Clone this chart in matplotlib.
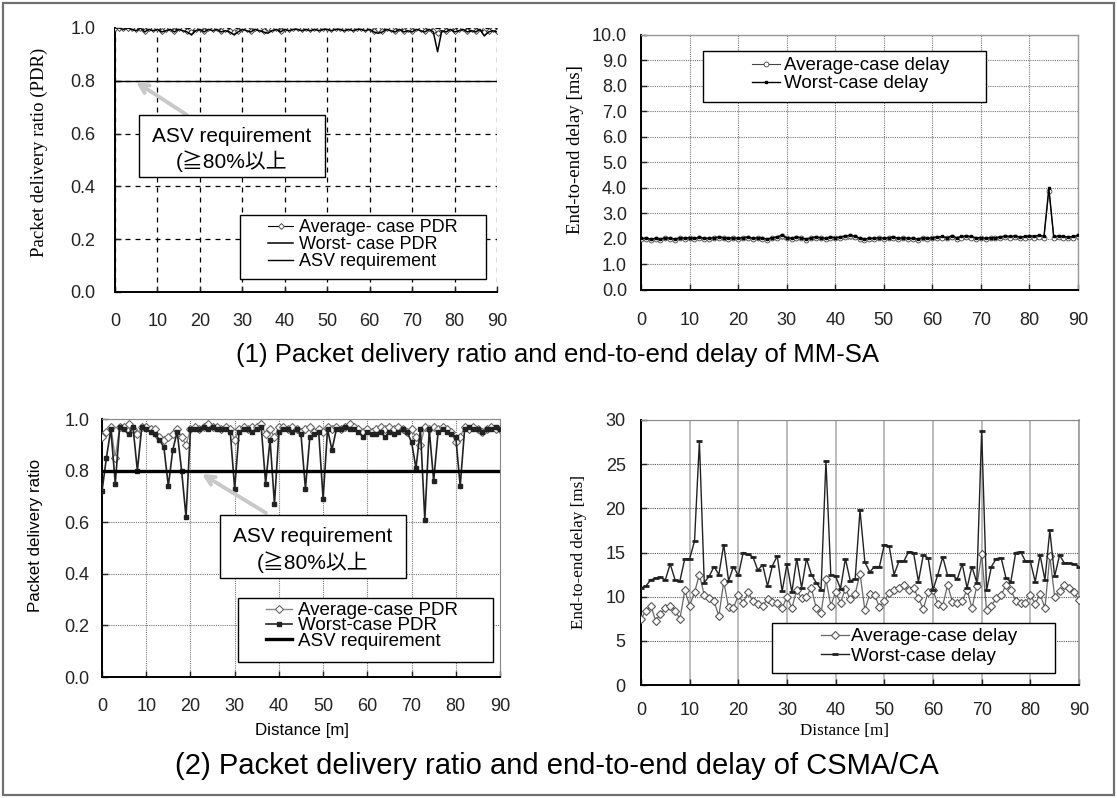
import numpy as np
import matplotlib
matplotlib.use("Agg")
import matplotlib.pyplot as plt
import matplotlib.patches as mpatches
from matplotlib.ticker import FormatStrFormatter

W, H = 1117, 798

# distance along the road [m]
distance = list(range(0, 91))
asv_requirement = 0.8

# (1) MM-SA
avg_pdr_mmsa = [1.00, 1.00, 1.00, 1.00, 1.00, 0.995, 1.00, 0.99, 1.00, 0.995,
                1.00, 0.99, 0.995, 1.00, 0.99, 1.00, 0.995, 0.99, 0.985, 0.995,
                1.00, 0.99, 1.00, 0.995, 1.00, 0.99, 0.995, 0.99, 0.985, 0.99,
                1.00, 0.995, 0.99, 1.00, 0.995, 0.99, 1.00, 0.995, 1.00, 0.99,
                1.00, 0.995, 1.00, 1.00, 0.995, 1.00, 0.995, 1.00, 0.995, 1.00,
                1.00, 0.995, 1.00, 1.00, 0.995, 1.00, 0.995, 1.00, 1.00, 0.995,
                1.00, 0.99, 0.995, 0.99, 1.00, 0.995, 0.99, 1.00, 0.99, 0.995,
                0.99, 1.00, 0.995, 0.99, 1.00, 0.99, 0.98, 0.995, 0.99, 1.00,
                0.99, 0.995, 1.00, 0.99, 0.995, 0.99, 1.00, 0.985, 0.99, 0.995, 0.99]
worst_pdr_mmsa = [1.00, 1.00, 0.995, 1.00, 0.995, 0.99, 1.00, 0.985, 0.995, 0.99,
                  0.995, 0.985, 0.99, 0.995, 0.985, 0.995, 0.99, 0.985, 0.975, 0.99,
                  0.995, 0.985, 0.995, 0.99, 0.995, 0.985, 0.99, 0.985, 0.975, 0.985,
                  0.995, 0.99, 0.985, 0.995, 0.99, 0.985, 0.98, 0.99, 0.995, 0.985,
                  0.995, 0.99, 0.995, 0.995, 0.99, 0.995, 0.99, 0.995, 0.99, 0.995,
                  0.995, 0.99, 0.995, 0.995, 0.99, 0.995, 0.99, 0.995, 0.995, 0.99,
                  0.995, 0.985, 0.98, 0.985, 0.995, 0.99, 0.985, 0.995, 0.985, 0.99,
                  0.985, 0.995, 0.99, 0.985, 0.995, 0.985, 0.91, 0.99, 0.985, 0.995,
                  0.985, 0.99, 0.995, 0.985, 0.99, 0.985, 0.995, 0.97, 0.985, 0.99, 0.985]
avg_delay_mmsa = [2.00, 2.00, 1.98, 2.00, 1.98, 2.02, 2.00, 1.98, 2.02, 2.00,
                  2.02, 2.00, 2.03, 2.00, 2.00, 2.02, 2.05, 2.02, 2.00, 2.02,
                  2.00, 2.02, 2.05, 2.00, 2.02, 2.00, 1.98, 2.02, 2.05, 2.12,
                  2.02, 2.00, 2.05, 2.02, 1.98, 2.02, 2.05, 2.02, 2.00, 2.05,
                  2.02, 2.05, 2.08, 2.10, 2.08, 2.00, 1.98, 2.00, 2.00, 2.02,
                  2.00, 2.02, 2.05, 2.00, 2.02, 2.00, 2.00, 1.98, 2.02, 2.00,
                  2.02, 2.05, 2.05, 2.02, 2.08, 2.00, 2.05, 2.08, 2.05, 2.00,
                  2.02, 2.00, 2.02, 2.02, 2.05, 2.08, 2.05, 2.08, 2.02, 2.05,
                  2.08, 2.05, 2.08, 2.05, 3.90, 2.05, 2.08, 2.05, 2.02, 2.05, 2.10]
worst_delay_mmsa = [2.02, 2.03, 2.00, 2.02, 2.00, 2.05, 2.03, 2.00, 2.05, 2.03,
                    2.05, 2.03, 2.06, 2.03, 2.03, 2.05, 2.08, 2.05, 2.03, 2.05,
                    2.03, 2.05, 2.08, 2.03, 2.05, 2.03, 2.00, 2.05, 2.08, 2.15,
                    2.05, 2.03, 2.08, 2.05, 2.00, 2.05, 2.08, 2.05, 2.03, 2.08,
                    2.05, 2.08, 2.12, 2.14, 2.12, 2.03, 2.00, 2.03, 2.03, 2.05,
                    2.03, 2.05, 2.08, 2.03, 2.05, 2.03, 2.03, 2.00, 2.05, 2.03,
                    2.05, 2.08, 2.10, 2.05, 2.12, 2.05, 2.10, 2.12, 2.10, 2.05,
                    2.05, 2.03, 2.05, 2.05, 2.08, 2.12, 2.10, 2.12, 2.08, 2.10,
                    2.12, 2.12, 2.14, 2.12, 4.00, 2.10, 2.12, 2.10, 2.08, 2.10, 2.14]

# (2) CSMA/CA
avg_pdr_csma = [0.93, 0.95, 0.97, 0.85, 0.97, 0.97, 0.98, 0.96, 0.94, 0.97,
                0.97, 0.96, 0.96, 0.93, 0.92, 0.93, 0.94, 0.96, 0.93, 0.90,
                0.96, 0.97, 0.96, 0.97, 0.98, 0.97, 0.97, 0.96, 0.97, 0.96,
                0.92, 0.96, 0.97, 0.96, 0.97, 0.97, 0.98, 0.94, 0.96, 0.93,
                0.97, 0.97, 0.96, 0.97, 0.96, 0.95, 0.96, 0.97, 0.95, 0.96,
                0.95, 0.97, 0.96, 0.97, 0.96, 0.97, 0.98, 0.97, 0.96, 0.95,
                0.96, 0.95, 0.96, 0.97, 0.96, 0.97, 0.96, 0.97, 0.96, 0.95,
                0.96, 0.93, 0.90, 0.97, 0.96, 0.97, 0.96, 0.97, 0.96, 0.95,
                0.91, 0.93, 0.97, 0.96, 0.97, 0.96, 0.95, 0.96, 0.97, 0.96, 0.96]
worst_pdr_csma = [0.72, 0.85, 0.96, 0.75, 0.97, 0.96, 0.94, 0.97, 0.80, 0.97,
                  0.96, 0.95, 0.94, 0.92, 0.89, 0.74, 0.88, 0.95, 0.80, 0.62,
                  0.96, 0.96, 0.96, 0.97, 0.96, 0.97, 0.96, 0.96, 0.96, 0.95,
                  0.73, 0.95, 0.96, 0.96, 0.95, 0.96, 0.97, 0.75, 0.92, 0.67,
                  0.95, 0.96, 0.96, 0.95, 0.96, 0.94, 0.73, 0.93, 0.94, 0.95,
                  0.69, 0.96, 0.88, 0.96, 0.96, 0.97, 0.96, 0.96, 0.95, 0.93,
                  0.95, 0.94, 0.94, 0.95, 0.93, 0.95, 0.94, 0.95, 0.96, 0.95,
                  0.91, 0.81, 0.96, 0.61, 0.96, 0.76, 0.95, 0.96, 0.95, 0.94,
                  0.93, 0.74, 0.96, 0.97, 0.96, 0.96, 0.95, 0.96, 0.96, 0.97, 0.96]
avg_delay_csma = [7.5, 8.4, 9.0, 7.3, 8.0, 8.7, 9.0, 8.4, 7.5, 10.7,
                  9.0, 10.5, 12.5, 10.2, 9.8, 9.5, 7.8, 11.7, 8.8, 8.7,
                  10.2, 9.3, 10.5, 9.5, 9.2, 9.0, 9.7, 9.4, 9.3, 8.7,
                  10.0, 8.7, 10.8, 9.8, 10.0, 11.0, 8.7, 8.1, 12.0, 9.0,
                  10.5, 9.3, 10.9, 9.7, 10.3, 12.6, 8.5, 10.3, 10.2, 8.8,
                  9.5, 10.4, 10.7, 11.0, 11.3, 10.8, 11.0, 9.8, 8.6, 10.5,
                  10.7, 9.2, 9.0, 11.3, 9.4, 9.3, 9.5, 10.8, 8.7, 11.2,
                  14.8, 8.5, 9.0, 9.8, 10.2, 11.3, 10.8, 9.5, 9.3, 9.3,
                  10.2, 9.2, 10.3, 8.7, 14.6, 10.0, 10.6, 11.3, 11.0, 10.5, 9.6]
worst_delay_csma = [11.0, 11.2, 11.9, 12.1, 12.2, 11.9, 13.7, 11.9, 11.8, 14.3,
                    14.3, 16.3, 27.6, 11.6, 12.3, 13.4, 12.5, 15.9, 11.8, 13.4,
                    12.4, 15.0, 14.8, 14.5, 13.0, 13.6, 11.2, 13.5, 14.6, 10.6,
                    13.7, 10.5, 14.3, 11.0, 14.3, 12.5, 11.6, 10.8, 25.4, 12.5,
                    12.3, 10.9, 14.3, 11.8, 12.0, 19.8, 13.9, 12.8, 13.4, 13.4,
                    15.9, 15.7, 12.5, 14.0, 14.0, 15.1, 15.0, 11.7, 14.7, 14.4,
                    10.8, 12.5, 14.5, 12.4, 12.4, 12.0, 13.7, 11.0, 13.4, 11.6,
                    28.8, 10.7, 13.4, 14.3, 14.4, 12.1, 11.7, 15.0, 15.1, 14.0,
                    14.0, 11.7, 14.7, 11.9, 17.5, 12.3, 14.7, 13.8, 13.8, 13.7, 13.4]

x_ticks = [0, 10, 20, 30, 40, 50, 60, 70, 80, 90]
pdr_ticks = [0.0, 0.2, 0.4, 0.6, 0.8, 1.0]
mmsa_delay_ticks = [0, 1, 2, 3, 4, 5, 6, 7, 8, 9, 10]
csma_delay_ticks = [0, 5, 10, 15, 20, 25, 30]

TICK_FONT = ["Liberation Sans Narrow", "Liberation Sans", "DejaVu Sans"]
SANS = ["Liberation Sans", "Noto Sans CJK JP", "DejaVu Sans"]
SERIF = ["Liberation Serif", "DejaVu Serif"]


def box(x0, y0, x1, y1):
    # pixel box (top-left origin) -> figure fraction rect
    return [x0 / W, 1 - y1 / H, (x1 - x0) / W, (y1 - y0) / H]


def fpt(x, y):
    return x / W, 1 - y / H


def frame_box(ax, x0, y0, x1, y1, lw=1.0):
    r = mpatches.Rectangle(fpt(x0, y1), (x1 - x0) / W, (y1 - y0) / H,
                           transform=fig.transFigure, facecolor="white",
                           edgecolor="black", lw=lw, zorder=4, clip_on=False)
    ax.add_patch(r)


def style_axes(ax, yticks, yfmt, xpad, ypad):
    ax.set_xlim(0, 90)
    ax.set_ylim(yticks[0], yticks[-1])
    ax.set_xticks(x_ticks)
    ax.set_yticks(yticks)
    ax.yaxis.set_major_formatter(FormatStrFormatter(yfmt))
    ax.tick_params(axis="both", direction="in", length=4, width=1, colors="#222222",
                   labelsize=13)
    ax.tick_params(axis="x", pad=xpad)
    ax.tick_params(axis="y", pad=ypad)
    for lab in ax.get_xticklabels() + ax.get_yticklabels():
        lab.set_family(TICK_FONT)
    for s in ("left", "bottom"):
        ax.spines[s].set_color("black")
        ax.spines[s].set_linewidth(1.4)
    ax.set_axisbelow(True)


def asv_note(ax, bx, text_y, arrow_from, arrow_to):
    frame_box(ax, *bx)
    cx = (bx[0] + bx[2]) / 2
    ax.text(*fpt(cx, text_y[0]), "ASV requirement", transform=fig.transFigure,
            ha="center", va="center", fontsize=15, family=SANS, zorder=6)
    ax.text(*fpt(cx, text_y[1]), "(≧80%以上", transform=fig.transFigure,
            ha="center", va="center", fontsize=15, family=SANS, zorder=6)
    ax.annotate("", xy=fpt(*arrow_to), xycoords="figure fraction",
                xytext=fpt(*arrow_from), textcoords="figure fraction",
                arrowprops=dict(arrowstyle="->", color="#c8c8c8", lw=2.8,
                                mutation_scale=16, shrinkA=0, shrinkB=0),
                zorder=3)


fig = plt.figure(figsize=(W / 100, H / 100), dpi=100, facecolor="white")

ax_tl = fig.add_axes(box(115, 28, 497, 292))
ax_tr = fig.add_axes(box(641, 35, 1078, 290))
ax_bl = fig.add_axes(box(102, 419, 500, 677))
ax_br = fig.add_axes(box(641, 420, 1079, 685))

# ---- (1) MM-SA : PDR ----
ax = ax_tl
style_axes(ax, pdr_ticks, "%.1f", 15, 14)
ax.grid(True, color="black", linestyle=(0, (4, 4)), linewidth=0.9)
ax.spines["top"].set_visible(False)
ax.spines["right"].set_visible(False)
l_avg, = ax.plot(distance, avg_pdr_mmsa, color="black", lw=0.8, marker="D", ms=3,
                 mfc="white", mec="#333333", mew=0.6, label="Average- case PDR", zorder=3)
l_wst, = ax.plot(distance, worst_pdr_mmsa, color="black", lw=1.1,
                 label="Worst- case PDR", zorder=3)
l_asv = ax.axhline(asv_requirement, color="black", lw=1.0, label="ASV requirement", zorder=3)
asv_note(ax, (139, 115, 325, 177), (136, 161), (187, 115), (136, 82))
frame_box(ax, 240, 215, 486, 279)
ax.legend(handles=[l_avg, l_wst, l_asv], loc="upper left",
          bbox_to_anchor=fpt(268, 219), bbox_transform=fig.transFigure,
          frameon=False, borderpad=0, borderaxespad=0, handlelength=1.4,
          handletextpad=0.3, labelspacing=0.0, prop={"family": SANS, "size": 13}
          ).set_zorder(6)
fig.text(*fpt(39, 152), "Packet delivery ratio (PDR)", rotation=90, ha="center",
         va="center", fontsize=13.5, family=SERIF)

# ---- (1) MM-SA : delay ----
ax = ax_tr
style_axes(ax, mmsa_delay_ticks, "%.1f", 16, 10)
ax.grid(True, color="#777777", linestyle=(0, (1, 1)), linewidth=0.8)
for s in ("top", "right"):
    ax.spines[s].set_color("#999999")
    ax.spines[s].set_linewidth(1.0)
d_avg, = ax.plot(distance, avg_delay_mmsa, color="#444444", lw=0.8, marker="o", ms=3.5,
                 mfc="white", mec="#444444", mew=0.6, label="Average-case delay", zorder=3)
d_wst, = ax.plot(distance, worst_delay_mmsa, color="black", lw=1.0, marker="s", ms=1.8,
                 label="Worst-case delay", zorder=3)
frame_box(ax, 703, 51, 986, 102)
ax.legend(handles=[d_avg, d_wst], loc="upper left",
          bbox_to_anchor=fpt(752, 57), bbox_transform=fig.transFigure,
          frameon=False, borderpad=0, borderaxespad=0, handlelength=1.5,
          handletextpad=0.2, labelspacing=0.05, prop={"family": SANS, "size": 13.5}
          ).set_zorder(6)
fig.text(*fpt(575, 150), "End-to-end delay [ms]", rotation=90, ha="center",
         va="center", fontsize=13.5, family=SERIF)

fig.text(*fpt(558, 355), "(1) Packet delivery ratio and end-to-end delay of MM-SA",
         ha="center", va="center", fontsize=18.5, family=SANS)

# ---- (2) CSMA/CA : PDR ----
ax = ax_bl
style_axes(ax, pdr_ticks, "%.1f", 15, 9)
ax.grid(True, color="#777777", linestyle=(0, (1, 1)), linewidth=0.8)
for s in ("top", "right"):
    ax.spines[s].set_color("#888888")
    ax.spines[s].set_linestyle((0, (1, 1)))
b_avg, = ax.plot(distance, avg_pdr_csma, color="#888888", lw=1.0, marker="D", ms=4,
                 mfc="white", mec="#666666", mew=0.8, label="Average-case PDR", zorder=3)
b_wst, = ax.plot(distance, worst_pdr_csma, color="#222222", lw=1.2, marker="s", ms=2.5,
                 label="Worst-case PDR", zorder=3)
b_asv = ax.axhline(asv_requirement, color="black", lw=2.4, label="ASV requirement", zorder=3)
asv_note(ax, (220, 515, 406, 578), (536, 562), (266, 513), (202, 474))
frame_box(ax, 238, 598, 493, 662)
ax.legend(handles=[b_avg, b_wst, b_asv], loc="upper left",
          bbox_to_anchor=fpt(266, 602), bbox_transform=fig.transFigure,
          frameon=False, borderpad=0, borderaxespad=0, handlelength=1.4,
          handletextpad=0.3, labelspacing=-0.1, prop={"family": SANS, "size": 13.5}
          ).set_zorder(6)
fig.text(*fpt(36, 535), "Packet delivery ratio", rotation=90, ha="center",
         va="center", fontsize=12.2, family=SANS)
fig.text(*fpt(302, 731), "Distance [m]", ha="center", va="center",
         fontsize=12.2, family=SANS)

# ---- (2) CSMA/CA : delay ----
ax = ax_br
style_axes(ax, csma_delay_ticks, "%d", 12, 11)
ax.xaxis.grid(True, color="#b0b0b0", linestyle="-", linewidth=1.2)
ax.yaxis.grid(True, color="#555555", linestyle=(0, (1, 1)), linewidth=0.8)
ax.spines["top"].set_color("#888888")
ax.spines["top"].set_linestyle((0, (1, 1)))
ax.spines["right"].set_color("#999999")
ax.spines["right"].set_linewidth(1.2)
c_avg, = ax.plot(distance, avg_delay_csma, color="#666666", lw=0.9, marker="D", ms=3.6,
                 mfc="white", mec="#555555", mew=0.8, label="Average-case delay", zorder=3)
c_wst, = ax.plot(distance, worst_delay_csma, color="#222222", lw=1.0, marker="_", ms=4,
                 mew=2, label="Worst-case delay", zorder=3)
frame_box(ax, 772, 623, 1055, 673)
ax.legend(handles=[c_avg, c_wst], loc="upper left",
          bbox_to_anchor=fpt(821, 628), bbox_transform=fig.transFigure,
          frameon=False, borderpad=0, borderaxespad=0, handlelength=1.5,
          handletextpad=0.1, labelspacing=0.12, prop={"family": SANS, "size": 13.6}
          ).set_zorder(6)
fig.text(*fpt(579, 552), "End-to-end delay [ms]", rotation=90, ha="center",
         va="center", fontsize=12.3, family=SERIF)
fig.text(*fpt(844, 731), "Distance [m]", ha="center", va="center",
         fontsize=12.3, family=SERIF)

fig.text(*fpt(557, 766), "(2) Packet delivery ratio and end-to-end delay of CSMA/CA",
         ha="center", va="center", fontsize=21, family=SANS)

# outer frame
fig.patches.append(mpatches.Rectangle(fpt(3, 795), 1111 / W, 792 / H,
                                      transform=fig.transFigure, fill=False,
                                      edgecolor="#707070", lw=1.6))

fig.savefig("out.png", dpi=100, facecolor="white")
